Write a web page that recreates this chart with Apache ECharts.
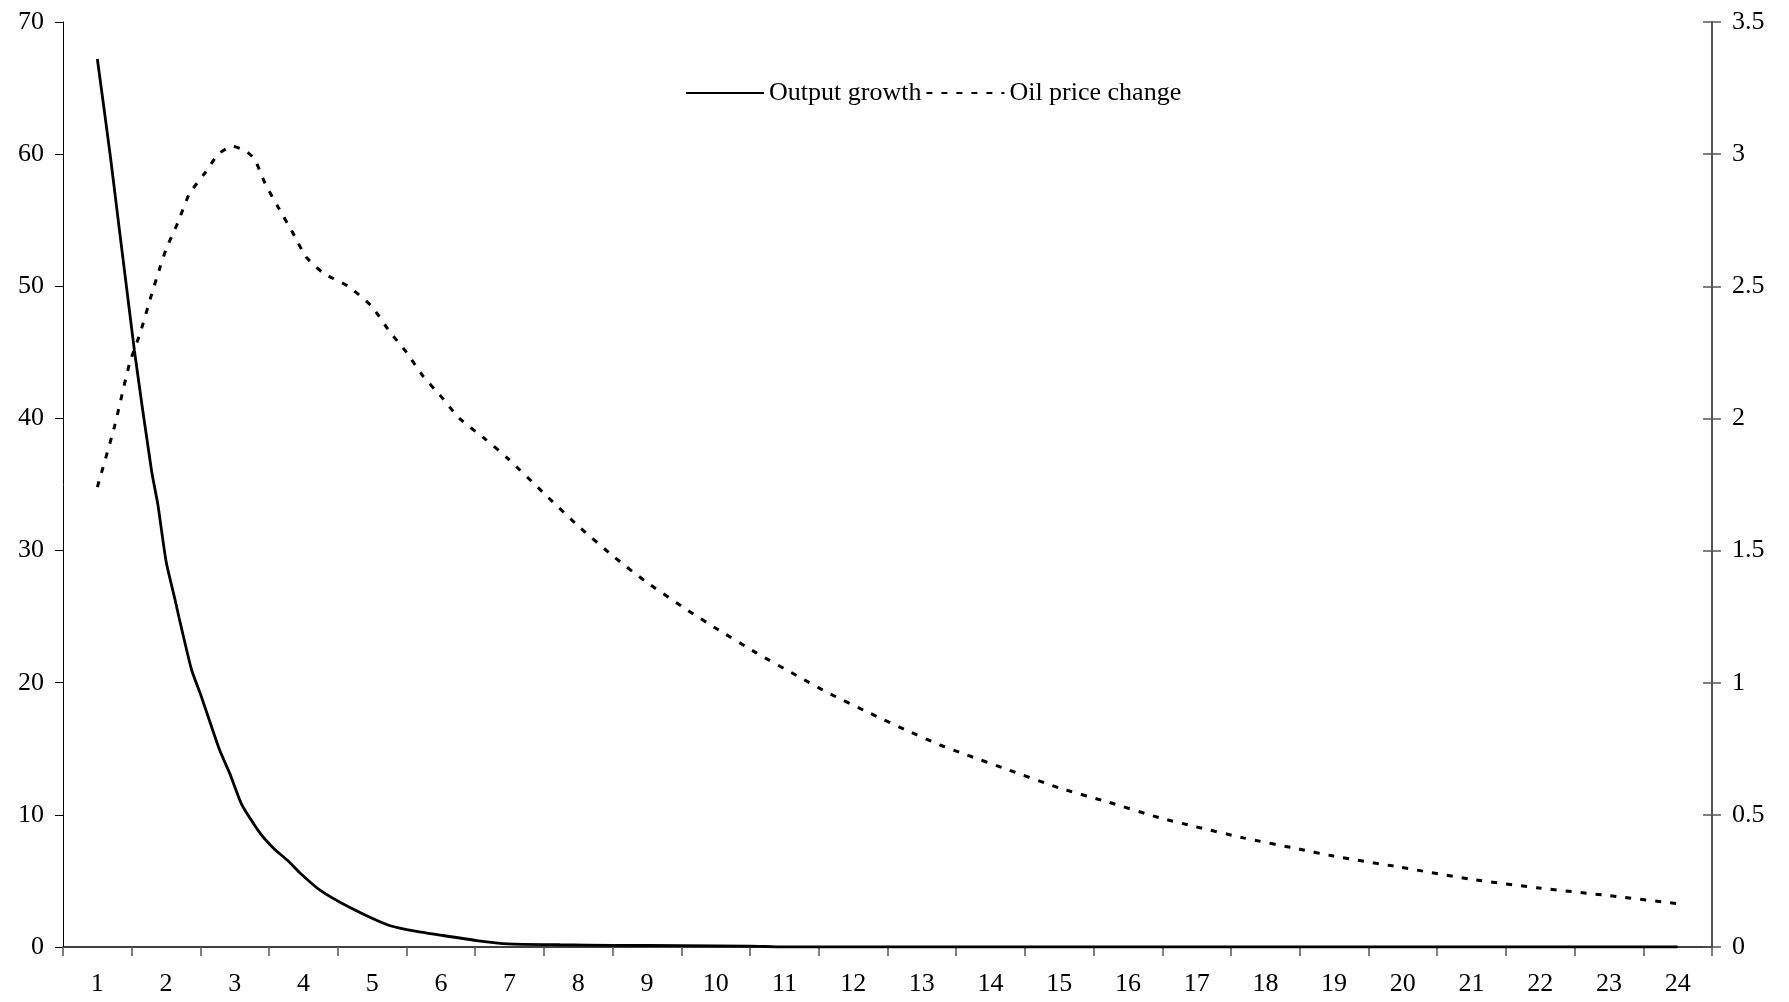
<!DOCTYPE html>
<html>
<head>
<meta charset="utf-8">
<script src="https://cdn.jsdelivr.net/npm/echarts@6/dist/echarts.min.js"></script>
<style>
html,body{margin:0;padding:0;background:#fff;}
#chart{width:1789px;height:1002px;}
</style>
</head>
<body>
<div id="chart"></div>
<script>
// Category tick labels on the x axis
const categories = ['1','2','3','4','5','6','7','8','9','10','11','12','13','14','15','16','17','18','19','20','21','22','23','24'];

// Output growth (left axis): positions along the x axis and values
const outputX = [1, 1.19, 1.54, 1.79, 1.88, 2.0, 2.13, 2.19, 2.37, 2.51, 2.78, 2.93, 3.10, 3.36, 3.56, 3.80, 3.95, 4.24, 4.67, 5.21, 5.52, 6.03, 6.52, 6.98, 7.73, 8.5, 9.5, 10.5, 11, 24];
const outputVal = [67.2, 59.8, 45.1, 36.0, 33.5, 29.2, 26.3, 24.9, 21.0, 19.0, 14.9, 13.1, 10.8, 8.67, 7.5, 6.4, 5.6, 4.3, 3.0, 1.7, 1.3, 0.87, 0.49, 0.24, 0.17, 0.13, 0.1, 0.07, 0, 0];

// Oil price change (right axis): positions along the x axis and values
const oilX = [1.0, 1.25, 1.47, 1.62, 1.79, 1.91, 2.0, 2.17, 2.34, 2.57, 2.76, 2.97, 3.17, 3.29, 3.44, 3.63, 3.85, 4.04, 4.29, 4.65, 4.99, 5.25, 5.50, 5.74, 5.98, 6.27, 6.64, 6.98, 7.51, 8.02, 8.53, 8.97, 9.57, 9.99, 10.59, 11.22, 11.61, 12.24, 12.82, 13.26, 13.65, 14.23, 15.01, 15.69, 16.46, 16.99, 17.68, 18.5, 18.99, 19.96, 20.98, 21.99, 23.01, 24.0];
const oilVal = [1.74, 1.97, 2.21, 2.32, 2.47, 2.57, 2.64, 2.74, 2.85, 2.93, 3.00, 3.03, 3.01, 2.98, 2.89, 2.80, 2.70, 2.61, 2.55, 2.50, 2.425, 2.33, 2.25, 2.16, 2.09, 2.00, 1.923, 1.847, 1.714, 1.588, 1.474, 1.385, 1.278, 1.208, 1.113, 1.021, 0.965, 0.885, 0.815, 0.765, 0.727, 0.673, 0.601, 0.55, 0.489, 0.455, 0.413, 0.37, 0.344, 0.302, 0.257, 0.223, 0.194, 0.164];

const seriesNames = ['Output growth', 'Oil price change'];

const FONT = 'Liberation Serif';
const FS = 26;

const outputData = outputX.map((x, i) => [x, outputVal[i]]);
const oilData = oilX.map((x, i) => [x, oilVal[i]]);

const chart = echarts.init(document.getElementById('chart'), null, {renderer: 'canvas'});
chart.setOption({
  backgroundColor: '#ffffff',
  animation: false,
  textStyle: {fontFamily: FONT, color: '#000'},
  grid: {left: 63, right: 77, top: 22, bottom: 55, containLabel: false},
  legend: {
    data: seriesNames,
    left: 680,
    top: 75,
    itemWidth: 78,
    itemHeight: 14,
    itemGap: 4,
    itemStyle: {opacity: 0},
    textStyle: {fontFamily: FONT, fontSize: FS, color: '#000'}
  },
  xAxis: [
    {
      type: 'category',
      data: categories,
      boundaryGap: true,
      position: 'bottom',
      axisLine: {show: true, lineStyle: {color: '#000', width: 1.5}},
      axisTick: {show: true, alignWithLabel: false, length: 9, lineStyle: {color: '#555', width: 1.5}},
      axisLabel: {fontFamily: FONT, fontSize: FS, color: '#000', margin: 24, interval: 0},
      splitLine: {show: false}
    },
    {
      type: 'value',
      min: 0.5,
      max: 24.5,
      show: false,
      position: 'bottom'
    }
  ],
  yAxis: [
    {
      type: 'value',
      position: 'left',
      min: 0, max: 70, interval: 10,
      axisLine: {show: true, lineStyle: {color: '#000', width: 1}},
      axisTick: {show: true, length: 8, lineStyle: {color: '#000', width: 1}},
      axisLabel: {fontFamily: FONT, fontSize: FS, color: '#000', margin: 19},
      splitLine: {show: false}
    },
    {
      type: 'value',
      position: 'right',
      min: 0, max: 3.5, interval: 0.5,
      axisLine: {show: true, lineStyle: {color: '#555', width: 2}},
      axisTick: {show: true, length: 9, lineStyle: {color: '#555', width: 1.5}},
      axisLabel: {fontFamily: FONT, fontSize: FS, color: '#000', margin: 20},
      splitLine: {show: false}
    },
    {
      type: 'value',
      position: 'right',
      min: 0, max: 3.5, interval: 0.5,
      axisLine: {show: false},
      axisTick: {show: true, inside: true, length: 9, lineStyle: {color: '#555', width: 1.5}},
      axisLabel: {show: false},
      splitLine: {show: false}
    }
  ],
  series: [
    {
      name: seriesNames[0],
      type: 'line',
      xAxisIndex: 1,
      yAxisIndex: 0,
      data: outputData,
      symbol: 'none',
      smooth: 0.2,
      lineStyle: {color: '#000', width: 2.8, type: 'solid'},
      itemStyle: {color: '#000'},
      z: 3
    },
    {
      name: seriesNames[1],
      type: 'line',
      xAxisIndex: 1,
      yAxisIndex: 1,
      data: oilData,
      symbol: 'none',
      smooth: 0.2,
      lineStyle: {color: '#000', width: 3, type: [6, 9]},
      itemStyle: {color: '#000'},
      z: 3
    }
  ]
});
</script>
</body>
</html>
